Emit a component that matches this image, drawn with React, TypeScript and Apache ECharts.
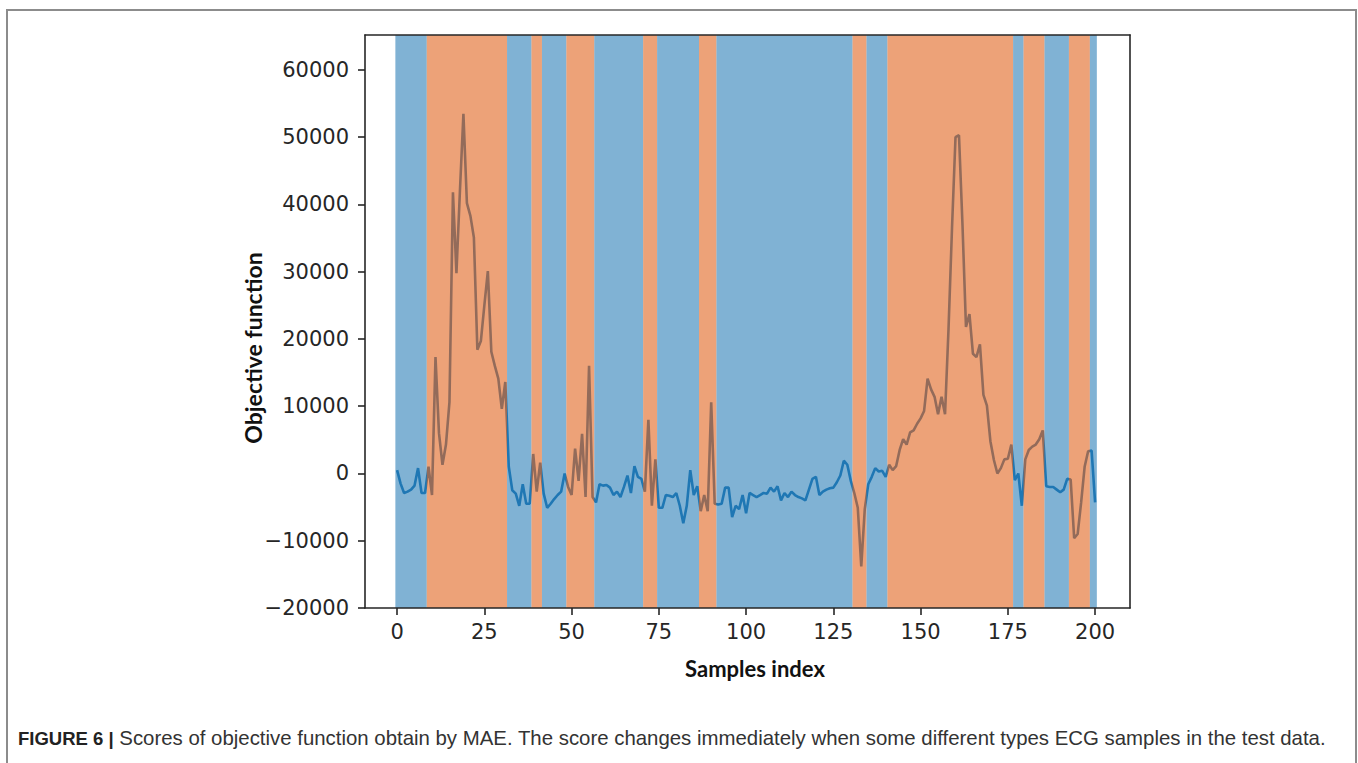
import React, { useEffect, useRef } from "react";
import * as echarts from "echarts";

// Objective function score for each sample index (0..200)
const objectiveValues: number[] = [
  500, -1500, -2900, -2700, -2400, -1800, 800, -2900, -2900, 1000,
  -3200, 17300, 6000, 1300, 4300, 10600, 41800, 29800, 42000, 53500,
  40200, 38300, 35100, 18400, 19700, 25000, 30100, 18100, 16000, 14100,
  9600, 13600, 1000, -2500, -3000, -4800, -1600, -4500, -4500, 2900,
  -2700, 1600, -3000, -5100, -4500, -3800, -3200, -2700, 0, -2000,
  -3200, 3700, -1100, 5900, -3500, 16000, -3500, -4300, -1600, -1800,
  -1700, -2100, -3200, -2700, -3500, -2000, -300, -2900, 1100, -500,
  -800, -2700, 8000, -4800, 2100, -5100, -5100, -3200, -3300, -3500,
  -2900, -4800, -7400, -4800, 500, -3200, -1900, -5600, -3200, -5600,
  10600, -4500, -4600, -4500, -2100, -2100, -6500, -4800, -5300, -3200,
  -5900, -2900, -3200, -3500, -3200, -2900, -3000, -2100, -2700, -1900,
  -4000, -2900, -3500, -2700, -3200, -3500, -3700, -4000, -2400, -800,
  -500, -3200, -2700, -2400, -2200, -2100, -1300, -300, 1900, 1300,
  -1100, -2900, -5100, -13800, -5300, -1600, -500, 800, 300, 400,
  -500, 1300, 500, 1100, 3500, 5100, 4300, 6100, 6400, 7400,
  8200, 9300, 14100, 12500, 11400, 8800, 11400, 8800, 21500, 36500,
  50000, 50300, 37000, 21800, 23700, 17800, 17300, 19200, 11700, 10100,
  4800, 2000, 0, 800, 2100, 2200, 4300, -1000, 0, -4800,
  2100, 3500, 4000, 4300, 5100, 6400, -1900, -2000, -2000, -2400,
  -2800, -2400, -800, -900, -9600, -9000, -4300, 1000, 3300, 3400,
  -4300,
];

// Class bands (0 = blue class, 1 = orange class)
const bandStarts: number[] = [-0.5, 8.5, 31.5, 38.5, 41.5, 48.5, 56.5, 70.5, 74.5, 86.5, 91.5, 130.5, 134.5, 140.5, 176.5, 179.5, 185.5, 192.5, 198.5];
const bandEnds: number[] = [8.5, 31.5, 38.5, 41.5, 48.5, 56.5, 70.5, 74.5, 86.5, 91.5, 130.5, 134.5, 140.5, 176.5, 179.5, 185.5, 192.5, 198.5, 200.5];
const bandClasses: number[] = [0, 1, 0, 1, 0, 1, 0, 1, 0, 1, 0, 1, 0, 1, 0, 1, 0, 1, 0];

const xTicks: number[] = [0, 25, 50, 75, 100, 125, 150, 175, 200];
const yTicks: number[] = [-20000, -10000, 0, 10000, 20000, 30000, 40000, 50000, 60000];

const xTitle = "Samples index";
const yTitle = "Objective function";
const captionLead = "FIGURE 6 |";
const captionBody =
  "Scores of objective function obtain by MAE. The score changes immediately when some different types ECG samples in the test data.";

const BAND_COLORS = ["rgba(31,119,180,0.57)", "rgba(225,100,30,0.6)"];
const AXIS_COLOR = "#262626";

export default function App() {
  const ref = useRef<HTMLDivElement>(null);

  useEffect(() => {
    if (!ref.current) return;
    const chart = echarts.init(ref.current, undefined, { renderer: "svg" });

    const lineData = objectiveValues.map((v, i) => [i, v]);
    const bandData = bandStarts.map((s, k) => [s, bandEnds[k], bandClasses[k]]);

    const axisLineStyle = { color: AXIS_COLOR, width: 1.6 };
    const labelStyle = { fontFamily: "DejaVu Sans", fontSize: 21, color: AXIS_COLOR };
    const titleFont = { fontFamily: "Lato", fontWeight: "bold", fontSize: 22, fill: "#111" };

    const option: any = {
      animation: false,
      backgroundColor: "#ffffff",
      grid: { left: 365, top: 35, width: 765, height: 573, show: false },
      xAxis: [
        {
          type: "value",
          min: -9.2,
          max: 210,
          z: 10,
          axisLine: { show: true, onZero: false, lineStyle: axisLineStyle },
          axisTick: { show: true, length: 7, lineStyle: axisLineStyle, customValues: xTicks },
          axisLabel: { ...labelStyle, margin: 13, customValues: xTicks },
          splitLine: { show: false },
        },
        {
          type: "value",
          position: "top",
          min: -9.2,
          max: 210,
          z: 10,
          axisLine: { show: true, onZero: false, lineStyle: axisLineStyle },
          axisTick: { show: false },
          axisLabel: { show: false },
          splitLine: { show: false },
        },
      ],
      yAxis: [
        {
          type: "value",
          min: -20000,
          max: 65200,
          z: 10,
          axisLine: { show: true, onZero: false, lineStyle: axisLineStyle },
          axisTick: { show: true, length: 7, lineStyle: axisLineStyle, customValues: yTicks },
          axisLabel: {
            ...labelStyle,
            margin: 16,
            customValues: yTicks,
            formatter: (v: number) => (v < 0 ? "\u2212" + Math.abs(v) : String(v)),
          },
          splitLine: { show: false },
        },
        {
          type: "value",
          position: "right",
          min: -20000,
          max: 65200,
          z: 10,
          axisLine: { show: true, onZero: false, lineStyle: axisLineStyle },
          axisTick: { show: false },
          axisLabel: { show: false },
          splitLine: { show: false },
        },
      ],
      series: [
        {
          type: "line",
          name: yTitle,
          data: lineData,
          xAxisIndex: 0,
          yAxisIndex: 0,
          showSymbol: false,
          symbol: "none",
          z: 2,
          lineStyle: { color: "#1f77b4", width: 2.6 },
        },
        {
          type: "custom",
          name: "Classes",
          xAxisIndex: 0,
          yAxisIndex: 0,
          z: 3,
          data: bandData,
          encode: { x: [0, 1] },
          renderItem: (params: any, api: any) => {
            const x0 = api.value(0);
            const x1 = api.value(1);
            const cls = api.value(2);
            const p0 = api.coord([x0, 0]);
            const p1 = api.coord([x1, 0]);
            const cs = params.coordSys;
            return {
              type: "rect",
              shape: { x: p0[0], y: cs.y, width: p1[0] - p0[0], height: cs.height },
              style: { fill: BAND_COLORS[cls] },
            };
          },
        },
      ],
      graphic: [
        {
          type: "rect",
          z: 0,
          shape: { x: 7, y: 10, width: 1349, height: 800 },
          style: { fill: "none", stroke: "#8c8c8c", lineWidth: 2 },
          silent: true,
        },
        {
          type: "text",
          x: 755,
          y: 668,
          z: 20,
          style: { ...titleFont, text: xTitle, align: "center", verticalAlign: "middle" },
        },
        {
          type: "text",
          x: 253,
          y: 348,
          rotation: Math.PI / 2,
          z: 20,
          style: { ...titleFont, fontSize: 23, text: yTitle, align: "center", verticalAlign: "middle" },
        },
        {
          type: "text",
          x: 18,
          y: 738,
          z: 20,
          style: {
            text: "{b|" + captionLead + "} " + captionBody,
            fontFamily: "Liberation Sans",
            fontSize: 20.4,
            fill: "#333",
            verticalAlign: "middle",
            rich: {
              b: { fontFamily: "Liberation Sans", fontSize: 18.5, fontWeight: "bold", fill: "#222" },
            },
          },
        },
      ],
    };

    chart.setOption(option);
    return () => chart.dispose();
  }, []);

  return (
    <div
      ref={ref}
      style={{ position: "fixed", left: 0, top: 0, width: 1358, height: 763, background: "#fff" }}
    />
  );
}
